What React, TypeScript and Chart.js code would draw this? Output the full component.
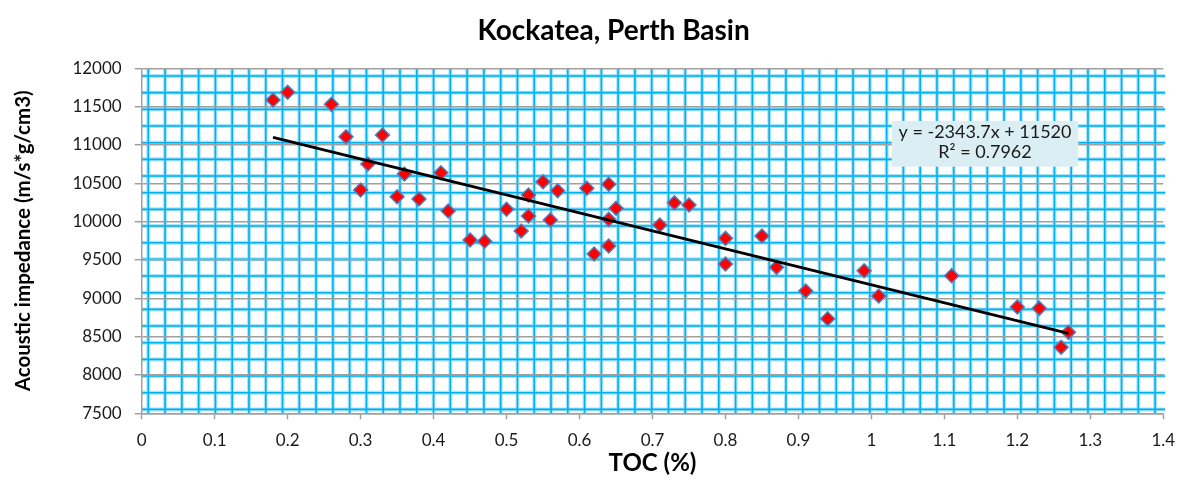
import React, { useEffect, useRef } from "react";
import { Chart, registerables } from "chart.js";

Chart.register(...registerables);

// ---------------- data ----------------
const TITLE = "Kockatea, Perth Basin";
const X_TITLE = "TOC (%)";
const Y_TITLE = "Acoustic impedance (m/s*g/cm3)";

const X_TICKS = [0, 0.1, 0.2, 0.3, 0.4, 0.5, 0.6, 0.7, 0.8, 0.9, 1, 1.1, 1.2, 1.3, 1.4];
const Y_TICKS = [7500, 8000, 8500, 9000, 9500, 10000, 10500, 11000, 11500, 12000];

const TOC = [
  0.18, 0.2, 0.26, 0.28, 0.33, 0.31, 0.36, 0.41, 0.3, 0.35, 0.38, 0.42, 0.45, 0.47,
  0.5, 0.52, 0.53, 0.53, 0.55, 0.56, 0.57, 0.61, 0.62, 0.64, 0.64, 0.64, 0.65, 0.71,
  0.73, 0.75, 0.8, 0.8, 0.85, 0.87, 0.91, 0.94, 0.99, 1.01, 1.11, 1.2, 1.23, 1.26, 1.27,
];
const IMPEDANCE = [
  11586, 11687, 11530, 11108, 11130, 10752, 10621, 10638, 10413, 10325, 10295, 10139, 9760, 9745,
  10161, 9878, 10347, 10073, 10521, 10021, 10403, 10435, 9578, 10487, 10030, 9682, 10174, 9956,
  10247, 10217, 9782, 9447, 9812, 9404, 9095, 8734, 9360, 9030, 9295, 8886, 8869, 8361, 8556,
];

const TREND_SLOPE = -2343.7;
const TREND_INTERCEPT = 11520;
const TREND_LABEL = ["y = -2343.7x + 11520", "R² = 0.7962"];

// ---------------- styles ----------------
const FONT = "Lato, 'Open Sans', sans-serif";
const GRID_GRAY = "#A0A0A0";
const TEXT = "#1a1a1a";

const W = 1192;
const H = 483;
const AREA = { left: 141.7, right: 1163.3, top: 68.3, bottom: 413.3 };
const PAD_LEFT = 64;

const TITLE_SIZE = 28;
const YT_SIZE = 20.5;
const XT_SIZE = 24;
const TICK_SIZE = 17;
const LABEL_SIZE = 18;

const paperPlugin = {
  id: "paper",
  beforeDraw(chart: any) {
    const { ctx, chartArea: a } = chart;
    ctx.save();
    ctx.beginPath();
    ctx.rect(a.left, a.top, a.right - a.left + 2, a.bottom - a.top);
    ctx.clip();
    const xs: number[] = [];
    const ys: number[] = [];
    for (let x = a.left + 6.6; x <= a.right + 2; x += 16.78) xs.push(x);
    for (let y = a.top + 7.7; y <= a.bottom + 0.5; y += 16.67) ys.push(y);
    const passes = [
      { w: 4, c: "rgba(0,176,240,0.33)" },
      { w: 1.6, c: "#00B0F0" },
    ];
    for (const p of passes) {
      ctx.strokeStyle = p.c;
      ctx.lineWidth = p.w;
      ctx.beginPath();
      for (const x of xs) {
        ctx.moveTo(x, a.top);
        ctx.lineTo(x, a.bottom);
      }
      for (const y of ys) {
        ctx.moveTo(a.left, y);
        ctx.lineTo(a.right + 2, y);
      }
      ctx.stroke();
    }
    ctx.restore();
  },
};

const trendLabelPlugin = {
  id: "trendLabel",
  afterDraw(chart: any) {
    const { ctx, chartArea: a } = chart;
    const left = a.left + 750;
    const right = a.left + 936.6;
    const top = a.top + 52.7;
    const bottom = a.top + 98.4;
    ctx.save();
    ctx.fillStyle = "#DBEEF4";
    ctx.fillRect(left, top, right - left, bottom - top);
    ctx.fillStyle = TEXT;
    ctx.font = `${LABEL_SIZE}px ${FONT}`;
    ctx.textAlign = "center";
    ctx.textBaseline = "middle";
    const cx = (left + right) / 2;
    ctx.fillText(TREND_LABEL[0], cx, top + 11.5);
    ctx.fillText(TREND_LABEL[1], cx, top + 31.5);
    ctx.restore();
  },
};

export default function App() {
  const ref = useRef<HTMLCanvasElement | null>(null);

  useEffect(() => {
    document.body.style.margin = "0";
    const canvas = ref.current;
    if (!canvas) return;

    const points = TOC.map((x, i) => ({ x, y: IMPEDANCE[i] }));
    const xMin = Math.min(...TOC);
    const xMax = Math.max(...TOC);
    const trend = [
      { x: xMin, y: TREND_SLOPE * xMin + TREND_INTERCEPT },
      { x: xMax, y: TREND_SLOPE * xMax + TREND_INTERCEPT },
    ];

    const titleLH = TITLE_SIZE * 1.2;
    const ytLH = YT_SIZE * 1.2;
    const xtLH = XT_SIZE * 1.2;

    const chart = new Chart(canvas, {
      type: "scatter",
      data: {
        datasets: [
          {
            label: "Trend",
            data: trend,
            showLine: true,
            borderColor: "#000000",
            borderWidth: 2.8,
            pointRadius: 0,
            pointHoverRadius: 0,
            order: 0,
          } as any,
          {
            label: "Kockatea",
            data: points,
            pointStyle: "rectRot",
            pointRadius: 7,
            pointHoverRadius: 7,
            backgroundColor: "#FF0000",
            borderColor: "#4F7FBF",
            borderWidth: 1.5,
            order: 1,
          },
        ],
      },
      options: {
        responsive: false,
        animation: false,
        events: [],
        layout: {
          padding: { left: PAD_LEFT, right: W - AREA.right, top: 0, bottom: 0 },
        },
        plugins: {
          legend: { display: false },
          tooltip: { enabled: false },
          title: {
            display: true,
            text: TITLE,
            color: "#000000",
            font: { family: FONT, size: TITLE_SIZE, weight: "bold" },
            padding: { top: 31 - titleLH / 2, bottom: AREA.top - (31 - titleLH / 2) - titleLH },
          },
        },
        scales: {
          x: {
            type: "linear",
            position: "bottom",
            min: 0,
            max: 1.4,
            afterBuildTicks: (s: any) => {
              s.ticks = X_TICKS.map((v) => ({ value: v }));
            },
            afterFit: (s: any) => {
              s.height = H - AREA.bottom;
            },
            ticks: {
              color: TEXT,
              font: { family: FONT, size: TICK_SIZE },
              padding: 11.5,
              maxRotation: 0,
              autoSkip: false,
              callback: (v: any) => String(v),
            },
            grid: {
              drawOnChartArea: false,
              drawTicks: true,
              tickLength: 6,
              tickColor: GRID_GRAY,
              tickWidth: 1.5,
            },
            border: { color: GRID_GRAY, width: 1.5 },
            title: {
              display: true,
              text: X_TITLE,
              color: "#000000",
              font: { family: FONT, size: XT_SIZE, weight: "bold" },
              padding: { top: 0, bottom: 20 - xtLH / 2 },
            },
          },
          y: {
            type: "linear",
            min: 7500,
            max: 12000,
            afterBuildTicks: (s: any) => {
              s.ticks = Y_TICKS.map((v) => ({ value: v }));
            },
            afterFit: (s: any) => {
              s.width = AREA.left - PAD_LEFT;
            },
            ticks: {
              color: TEXT,
              font: { family: FONT, size: TICK_SIZE },
              padding: 13,
              callback: (v: any) => String(v),
            },
            grid: {
              color: GRID_GRAY,
              lineWidth: 1.4,
              drawTicks: true,
              tickLength: 7,
              tickColor: GRID_GRAY,
              tickWidth: 1.5,
            },
            border: { color: GRID_GRAY, width: 1.5 },
            title: {
              display: true,
              text: Y_TITLE,
              color: "#000000",
              font: { family: FONT, size: YT_SIZE, weight: "bold" },
              padding: { top: 23 - PAD_LEFT - ytLH / 2, bottom: 0 },
            },
          },
        },
      },
      plugins: [paperPlugin, trendLabelPlugin],
    });

    return () => chart.destroy();
  }, []);

  return (
    <div style={{ width: W, height: H }}>
      <canvas ref={ref} width={W} height={H} style={{ display: "block" }} />
    </div>
  );
}
